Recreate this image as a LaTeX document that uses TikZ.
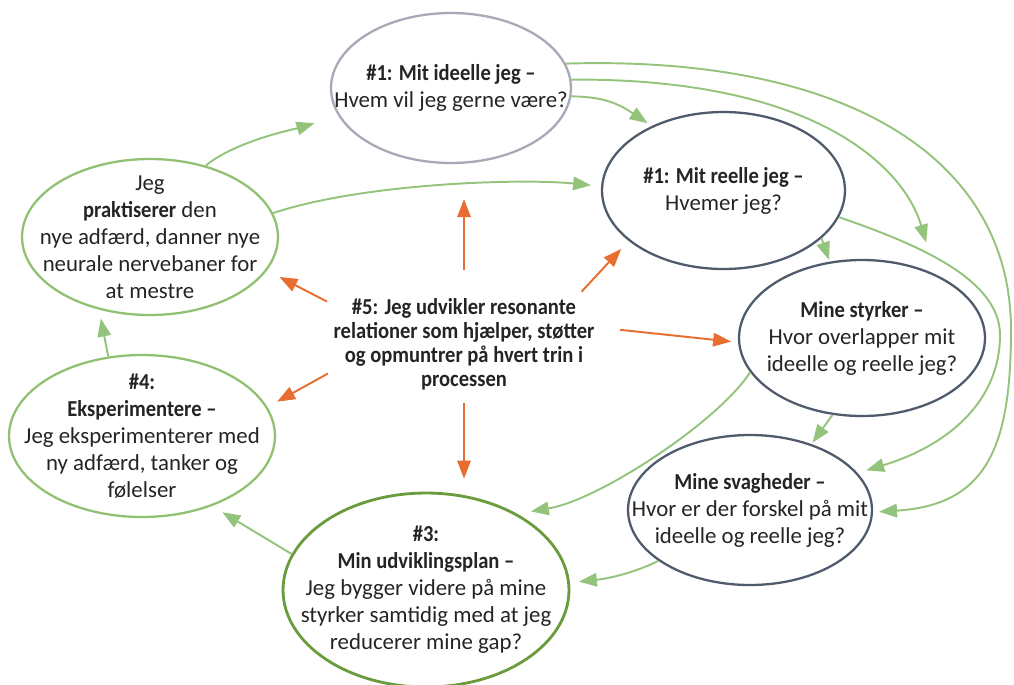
\documentclass[tikz,border=0pt]{standalone}
\usepackage{fontspec}
\setmainfont{Carlito}[BoldFeatures={FakeStretch=0.9}]
\usetikzlibrary{shapes.geometric,arrows.meta}

\definecolor{idealgray}{HTML}{A7A9B6}
\definecolor{slate}{HTML}{4F5B6B}
\definecolor{plangreen}{HTML}{6A9B3C}
\definecolor{lightgreen}{HTML}{90C173}
\definecolor{arrowgreen}{HTML}{94C47C}
\definecolor{arroworange}{HTML}{E86D30}
\definecolor{textdark}{HTML}{262324}

\tikzset{
    stage/.style={ellipse, draw, line width=1.3pt, inner sep=-1.5cm, align=center,
        text=textdark, font=\fontsize{13}{15.4}\selectfont},
    greenarrow/.style={draw=arrowgreen, line width=1.1pt, -{Triangle[length=0.36cm,width=0.27cm]}},
    orangearrow/.style={draw=arroworange, line width=1.1pt, -{Triangle[length=0.36cm,width=0.27cm]}},
}

\begin{document}
\begin{tikzpicture}[x=0.02cm, y=-0.02cm]
        \useasboundingbox (0, 0) rectangle (1014, 684);

        % Nodes
        \node[stage, draw=idealgray, minimum width=4.8cm, minimum height=3cm] (ideal) at (451, 88)
            {\textbf{\#1: Mit ideelle jeg --}\\Hvem vil jeg gerne være?};
        \node[stage, draw=slate, minimum width=4.86cm, minimum height=3.14cm] (reel) at (723.5, 190.5)
            {\textbf{\#1: Mit reelle jeg --}\\Hvemer jeg?};
        \node[stage, draw=slate, minimum width=4.92cm, minimum height=3.12cm] (styrker) at (862, 338)
            {\textbf{Mine styrker --}\\Hvor overlapper mit\\ideelle og reelle jeg?};
        \node[stage, draw=slate, minimum width=4.88cm, minimum height=3cm] (svag) at (750, 510)
            {\textbf{Mine svagheder --}\\Hvor er der forskel på mit\\ideelle og reelle jeg?};
        \node[stage, draw=plangreen, line width=1.6pt, minimum width=5.72cm, minimum height=3.88cm] (plan) at (426, 590)
            {\textbf{\#3:}\\\textbf{Min udviklingsplan --}\\Jeg bygger videre på mine\\styrker samtidig med at jeg\\reducerer mine gap?};
        \node[stage, draw=lightgreen, minimum width=5.32cm, minimum height=3.24cm] (eksp) at (142, 436)
            {\textbf{\#4:}\\\textbf{Eksperimentere --}\\Jeg eksperimenterer med\\ny adfærd, tanker og\\følelser};
        \node[stage, draw=lightgreen, minimum width=5.12cm, minimum height=3.12cm] (prakt) at (150, 237)
            {Jeg\\\textbf{praktiserer} den\\nye adfærd, danner nye\\neurale nervebaner for\\at mestre};
        \node[align=center, inner sep=0, minimum width=5.36cm, minimum height=2.08cm, text=textdark,
            font=\bfseries\fontsize{13}{13.7}\selectfont] (res) at (464, 344)
            {\#5: Jeg udvikler resonante\\relationer som hjælper, støtter\\og opmuntrer på hvert trin i\\processen};

        % Green arrows
        \draw[greenarrow, shorten >=0.5cm] (prakt.52.6) .. controls +(30, -25) and +(-40, 12) .. (ideal.-166);
        \draw[greenarrow, shorten >=0.2cm] (prakt.11.3) .. controls +(90, -30) and +(-80, -8) .. (reel.178);
        \draw[greenarrow, shorten >=0.1cm] (ideal.-4.7) .. controls +(35, 0) and +(-30, -20) .. (reel.138);
        \draw[greenarrow, shorten >=0.66cm] (ideal.4.8) .. controls (820, 78) and (905, 170) .. (styrker.41);
        \draw[greenarrow, shorten >=0.12cm] (ideal.12) .. controls (850, 55) and (1011, 160) .. (1011, 330)
            .. controls (1011, 450) and (985, 505) .. (svag.-1);
        \draw[greenarrow, shorten >=0.18cm] (reel.-13.7) .. controls (920, 245) and (1000, 280) .. (1000, 335)
            .. controls (1000, 400) and (950, 445) .. (svag.19);
        \draw[greenarrow, shorten >=1pt] (reel.-26) -- (styrker.113);
        \draw[greenarrow, shorten >=1pt] (styrker.-111) -- (svag.47.6);
        \draw[greenarrow, shorten >=0.28cm] (styrker.-163) .. controls (720, 420) and (600, 500) .. (plan.40);
        \draw[greenarrow, shorten >=0.18cm] (svag.-151) .. controls +(-30, 15) and +(30, -3) .. (plan.3);
        \draw[greenarrow, shorten >=0.24cm] (plan.165) -- (eksp.-45.7);
        \draw[greenarrow, shorten >=0.18cm] (eksp.113) -- (prakt.-125);

        % Orange arrows
        \draw[orangearrow, shorten <=0.44cm, shorten >=0.7cm] (res.north) -- (res.north |- ideal.south);
        \draw[orangearrow, shorten <=0.06cm, shorten >=0.28cm] (res.163) -- (prakt.-16);
        \draw[orangearrow, shorten >=0.22cm] (res.24.5) -- (reel.-152);
        \draw[orangearrow, shorten <=0.44cm, shorten >=0.14cm] (res.7.8) -- (styrker.-178.6);
        \draw[orangearrow, shorten <=0.04cm, shorten >=0.22cm] (res.-168.6) -- (eksp.13.9);
        \draw[orangearrow, shorten <=0.14cm, shorten >=0.26cm] (res.south) -- (res.south |- plan.north);
    \end{tikzpicture}
\end{document}
